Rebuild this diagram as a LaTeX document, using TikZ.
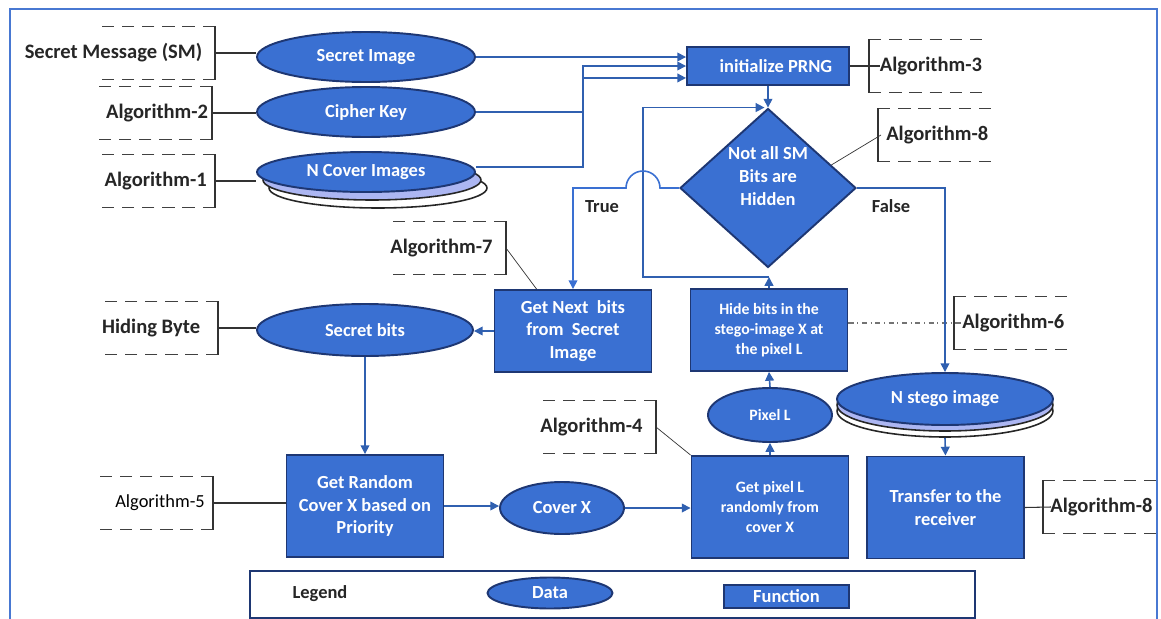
\documentclass[tikz,border=0pt]{standalone}
\usepackage{fontspec}
\setmainfont{Carlito}
\usetikzlibrary{shapes.geometric,arrows.meta,positioning}

\definecolor{nodeblue}{RGB}{58,112,210}
\definecolor{edgenavy}{RGB}{30,55,115}
\definecolor{linkblue}{RGB}{48,96,176}
\definecolor{layerblue}{RGB}{172,182,242}
\definecolor{frameblue}{RGB}{72,120,210}

% bracket of an annotation: open left side / open right side
\newcommand{\lbrk}[1]{%
  \draw[brkdash] (#1.north east) -- ++(-115,0) (#1.south east) -- ++(-115,0);
  \draw[brkline] (#1.north east) -- (#1.south east);}
\newcommand{\rbrk}[1]{%
  \draw[brkdash] (#1.north west) -- ++(115,0) (#1.south west) -- ++(115,0);
  \draw[brkline] (#1.north west) -- (#1.south west);}

\begin{document}
\begin{tikzpicture}[x=0.02cm, y=-0.02cm]

    \tikzstyle{data}=[ellipse, draw=edgenavy, line width=1.1pt, fill=nodeblue, text=white,
                      font=\bfseries\fontsize{10.5}{13}\selectfont, inner sep=0pt,
                      minimum width=4.36cm, minimum height=1cm]
    \tikzstyle{layer}=[ellipse, draw=black!85, line width=0.9pt, inner sep=0pt,
                       minimum width=4.36cm, minimum height=0.8cm]
    \tikzstyle{func}=[rectangle, draw=edgenavy, line width=1.1pt, fill=nodeblue, text=white,
                      font=\bfseries\fontsize{10.5}{13}\selectfont, align=center, inner sep=0pt,
                      minimum width=3.14cm, minimum height=2.04cm]
    \tikzstyle{small}=[font=\bfseries\fontsize{9}{11.5}\selectfont]
    \tikzstyle{decide}=[diamond, draw=edgenavy, line width=1.1pt, fill=nodeblue, inner sep=0pt,
                        minimum width=3.52cm, minimum height=3.18cm]
    \tikzstyle{lnote}=[anchor=east, font=\bfseries\fontsize{11.7}{14}\selectfont, text=black!85,
                       minimum height=1.06cm, inner xsep=4.5pt, inner ysep=0pt]
    \tikzstyle{rnote}=[lnote, anchor=west]
    \tikzstyle{lbl}=[font=\bfseries\fontsize{10.5}{13}\selectfont, text=black!85]
    \tikzstyle{brkdash}=[draw=black!75, line width=0.7pt, dash pattern=on 7pt off 4.5pt]
    \tikzstyle{brkline}=[draw=black!80, line width=0.7pt]
    \tikzstyle{note}=[draw=black!80, line width=0.6pt]
    \tikzstyle{arr}=[draw=linkblue, line width=0.9pt, -{Triangle[length=5pt,width=5pt]}]

    \useasboundingbox (0,0) rectangle (1161,619);
    \draw[frameblue, line width=1.4pt] (10,9) rectangle (1157,660);

    % inputs
    \node[data] (secimg) at (366,57)  {Secret Image};
    \node[data] (ckey)   at (366,112) {Cipher Key};
    \node[layer, fill=white]     (ncover3) at (378,188) {};
    \node[layer, fill=layerblue] (ncover2) at (372,180) {};
    \node[data, minimum height=0.8cm] (ncover) at (366,172) {N Cover Images};

    % main flow
    \node[func, minimum width=3.24cm, minimum height=0.76cm] (prng) at (768,66) {\raisebox{-2.5pt}{\hspace{9pt}initialize PRNG}};
    \node[decide] (notall) at (768,188) {};
    \node[lbl, text=white, align=center] (notalltxt) at (768,176) {Not all SM\\Bits are\\Hidden};
    \node[func, minimum height=1.64cm] (nextbits) at (573,331) {Get Next~ bits\\from~ Secret\\Image};
    \node[func, small, minimum height=1.64cm] (hide) at (769,330) {Hide bits in the\\stego-image X at\\the pixel L};
    \node[data, minimum width=4.32cm, minimum height=1.04cm] (secbits) at (365,330) {Secret bits};
    \node[func] (getcover) at (365,506) {Get Random\\Cover X based on\\Priority};
    \node[data, minimum width=2.48cm, minimum height=1.04cm] (coverx) at (562,508) {Cover X};
    \node[func, small] (getpix) at (770,507) {Get pixel L\\randomly from\\cover X};
    \node[data, small, minimum width=2.48cm, minimum height=1.08cm] (pixl) at (770,415) {Pixel L};
    \node[layer, fill=white, minimum width=4.32cm, minimum height=1.04cm]     (nstego3) at (945,411) {};
    \node[layer, fill=layerblue, minimum width=4.32cm, minimum height=1.04cm] (nstego2) at (945,405) {};
    \node[data, minimum width=4.32cm, minimum height=1.04cm] (nstego) at (945,399) {N stego image};
    \node[func] (transfer) at (945.5,507.5) {Transfer to the\\receiver};

    \node[lbl] (ltrue)  at (602,207) {True};
    \node[lbl] (lfalse) at (891,206) {False};

    % annotations
    \node[lnote, inner xsep=7pt] (aSM)    at (215,53)  {Secret Message (SM)};
    \node[lnote, inner xsep=2pt] (aKey)   at (212,113) {Algorithm-2};
    \node[lnote]                 (aCover) at (215,181) {Algorithm-1};
    \node[lnote, inner xsep=7.5pt] (aNext) at (506,248) {Algorithm-7};
    \node[lnote, inner xsep=10pt] (aByte) at (218,328) {Hiding Byte};
    \node[lnote, inner xsep=7.5pt] (aPick) at (656,427) {Algorithm-4};
    \node[lnote, font=\fontsize{10.5}{13}\selectfont, text=black] (aPrio) at (213,503) {Algorithm-5};
    \node[rnote, inner xsep=6pt] (aPrng)  at (869,66)  {Algorithm-3};
    \node[rnote]                 (aLoop)  at (878,135) {Algorithm-8};
    \node[rnote]                 (aHide)  at (954,323) {Algorithm-6};
    \node[rnote, inner xsep=4pt] (aSend)  at (1043,507) {Algorithm-8};

    \lbrk{aSM} \lbrk{aKey} \lbrk{aCover} \lbrk{aNext} \lbrk{aByte} \lbrk{aPick} \lbrk{aPrio}
    \rbrk{aPrng} \rbrk{aLoop} \rbrk{aHide} \rbrk{aSend}

    \draw[note] (aSM.east) -- (aSM.east -| secimg.west);
    \draw[note] (aKey.east) -- (aKey.east -| ckey.west);
    \draw[note] (aCover.east) -- (aCover.east -| ncover.west);
    \draw[note] (aByte.east) -- (aByte.east -| secbits.west);
    \draw[note] (aPrio.east) -- (aPrio.east -| getcover.west);
    \draw[note, line width=0.4pt] (aNext.east) -- ([xshift=0.86cm]nextbits.north west);
    \draw[note, line width=0.4pt] (aPick.east) -- (getpix.north west);
    \draw[note, line width=0.4pt] (notall.20) -- ([xshift=0.06cm]aLoop.west);
    \draw[note] (prng.east) -- ([xshift=0.22cm]aPrng.west);
    \draw[note, black!55, dash dot] (aHide.west -| hide.east) -- ([xshift=0.16cm]aHide.west);
    \draw[note] (transfer.east) -- ([xshift=0.16cm]aSend.west);

    % connectors
    \coordinate (trunk) at (583,112);
    \coordinate (lpbot) at (643,277);
    \coordinate (hop) at (lpbot |- notall.west);

    \draw[arr] (secimg.east) -- (secimg.east -| prng.west);
    \draw[arr] ([yshift=3pt]ncover.east) -- ([yshift=3pt]ncover.east -| trunk) |- (prng.west);
    \draw[arr] (ckey.east) -- (ckey.east -| trunk) |- ([yshift=-6.8pt]prng.west);
    \draw[arr] (prng.south) -- (notall.north);

    \draw[arr] (hide.north) -- (hide.north |- lpbot);
    \draw[arr] (hide.north |- lpbot) -- (lpbot) |- ([xshift=-2pt]notall.north);

    \draw[arr, draw=nodeblue] (notall.west) -- ([xshift=0.34cm]hop)
        arc[start angle=0, end angle=180, radius=0.34cm] -- (hop -| nextbits.north) -- (nextbits.north);
    \draw[arr] (notall.east) -| (nstego.north);

    \draw[arr] (nextbits.west) -- (nextbits.west -| secbits.east);
    \draw[arr] (secbits.south) -- (getcover.north);
    \draw[arr] (getcover.east) -- (getcover.east -| coverx.west);
    \draw[arr] (coverx.east) -- (coverx.east -| getpix.west);
    \draw[arr] (getpix.north) -- (pixl.south);
    \draw[arr] (pixl.north) -- (hide.south);
    \draw[arr] (nstego3.south) -- (transfer.north);

    % legend
    \draw[edgenavy, line width=1pt] (250,571) rectangle (975,618);
    \node[lbl] (legendtxt) at (320,594) {Legend};
    \node[data, minimum width=2.5cm, minimum height=0.62cm] (legdata) at (550,593) {Data};
    \node[func, minimum width=2.5cm, minimum height=0.46cm] (legfunc) at (786.5,596.5) {Function};

\end{tikzpicture}
\end{document}
